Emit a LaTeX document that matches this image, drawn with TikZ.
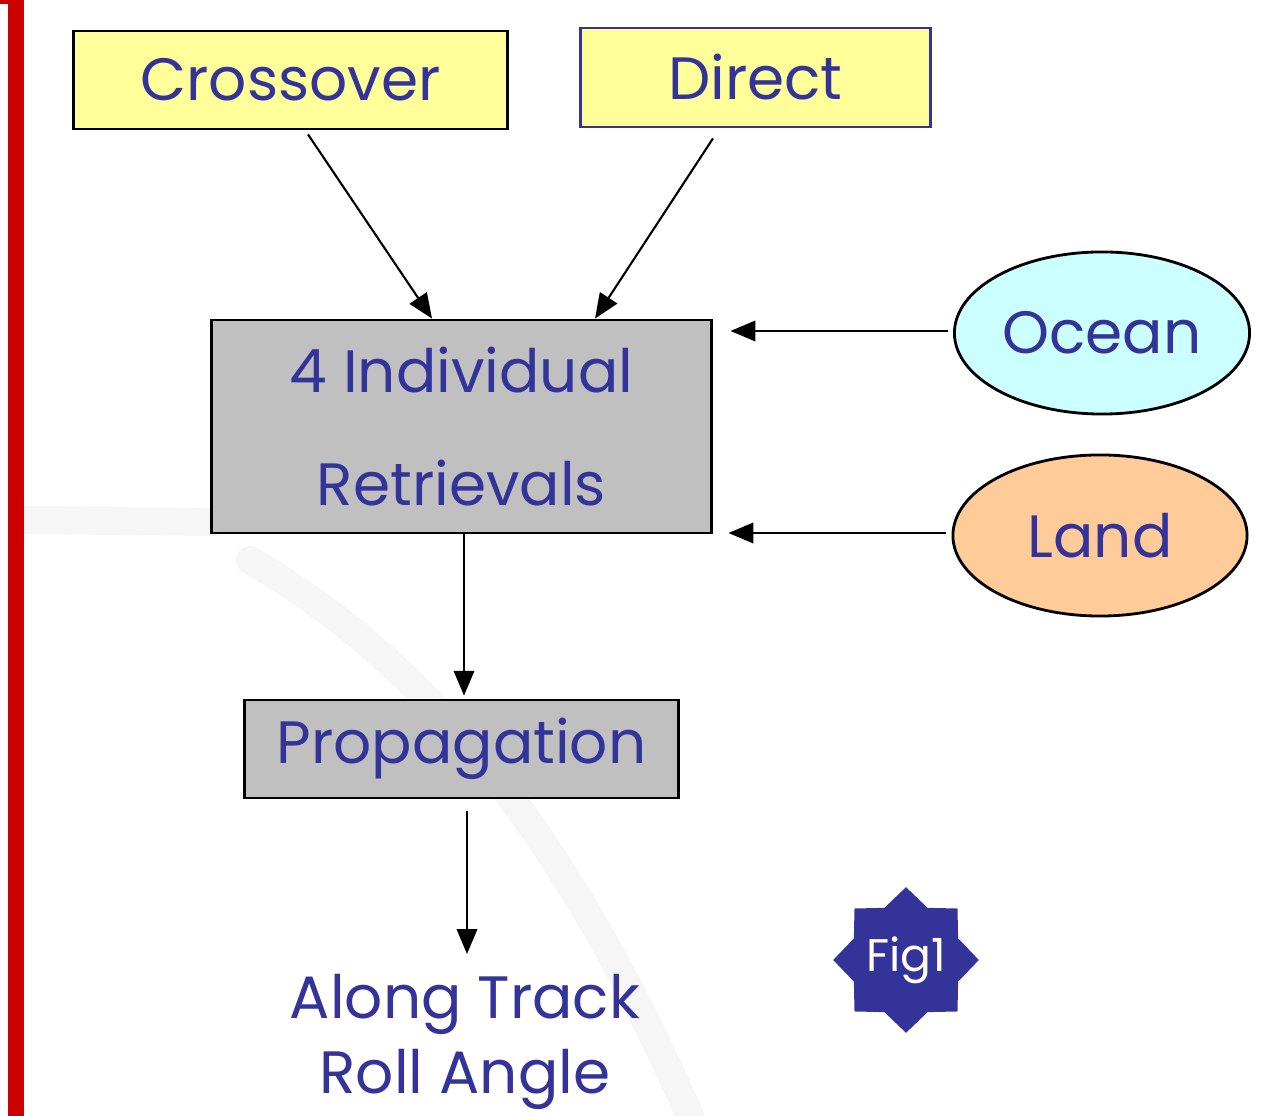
\documentclass[tikz,border=0pt]{standalone}
\usepackage{fontspec}
\setmainfont{Poppins}
\usepackage{tikz}
\usetikzlibrary{shapes.geometric, arrows, positioning}
\definecolor{textblue}{RGB}{51, 51, 153}
\definecolor{boxyellow}{RGB}{255, 255, 153}
\definecolor{boxgray}{RGB}{192, 192, 192}
\definecolor{oceancyan}{RGB}{204, 255, 255}
\definecolor{landorange}{RGB}{255, 204, 153}
\definecolor{barred}{RGB}{204, 0, 0}

\begin{document}
\begin{tikzpicture}[
    x=0.01cm, y=-0.01cm,
    box/.style={rectangle, draw, thick, align=center, text=textblue, font=\fontsize{17}{20}\selectfont, inner sep=0pt},
    blob/.style={ellipse, draw, thick, inner sep=0pt, text=textblue, font=\fontsize{17}{20}\selectfont},
    arrow/.style={-triangle 45, semithick},
    streak/.style={line width=8pt, gray!7, line cap=round}
]
    \useasboundingbox (0,0) rectangle (1272,1116);
    \fill[white] (0,0) rectangle (1272,1116);
    % Background streaks
    \draw[streak] (30,520) -- (212,522);
    \draw[streak] (250,560) .. controls (420,660) and (560,820) .. (690,1116);
    % Left bar
    \fill[barred] (8,0) rectangle (24,1116);
    \fill[barred] (0,0) rectangle (8,4);

    % Boxes
    \node[box, fill=boxyellow, minimum width=4.33cm, minimum height=0.98cm] (cross) at (290.5, 80) {Crossover};
    \node[box, fill=boxyellow, draw=textblue, minimum width=3.49cm, minimum height=0.99cm] (direct) at (755.5, 77.5) {Direct};
    \node[box, fill=boxgray, minimum width=4.99cm, minimum height=2.13cm] (retr) at (461.5, 426.5) {4 Individual\\[0.42cm]Retrievals};
    \node[blob, fill=oceancyan, minimum width=2.95cm, minimum height=1.62cm] (ocean) at (1102, 333) {Ocean};
    \node[blob, fill=landorange, minimum width=2.94cm, minimum height=1.61cm] (land) at (1100, 535.5) {Land};
    \node[box, fill=boxgray, minimum width=4.33cm, minimum height=0.98cm] (prop) at (461.5, 749) {Propagation};
    \node[align=center, text=textblue, font=\fontsize{17}{21.3}\selectfont] (roll) at (465, 1042) {Along Track\\Roll Angle};
    \node[star, star points=8, star point ratio=1.29, fill=textblue, minimum size=1.44cm, inner sep=0pt, text=white, font=\fontsize{13}{15}\selectfont] (fig) at (906, 960) {Fig1};

    % Arrows
    \draw[arrow] ([xshift=0.175cm, yshift=-0.04cm]cross.south) -- ([xshift=-0.295cm]retr.north);
    \draw[arrow] ([xshift=-0.425cm, yshift=-0.1cm]direct.south) -- ([xshift=1.335cm]retr.north);
    \draw[arrow, shorten >=0.18cm] ([xshift=-0.05cm, yshift=0.02cm]ocean.west) -- ([yshift=0.02cm]ocean.west -| retr.east);
    \draw[arrow, shorten >=0.16cm] ([xshift=-0.06cm, yshift=0.025cm]land.west) -- ([yshift=0.025cm]land.west -| retr.east);
    \draw[arrow, shorten >=0.03cm] ([xshift=0.025cm]retr.south) -- ([xshift=0.025cm]retr.south |- prop.north);
    \draw[arrow] ([xshift=0.055cm, yshift=-0.12cm]prop.south) -- ([xshift=0.055cm, yshift=0.08cm]prop.south |- roll.north);

\end{tikzpicture}
\end{document}
